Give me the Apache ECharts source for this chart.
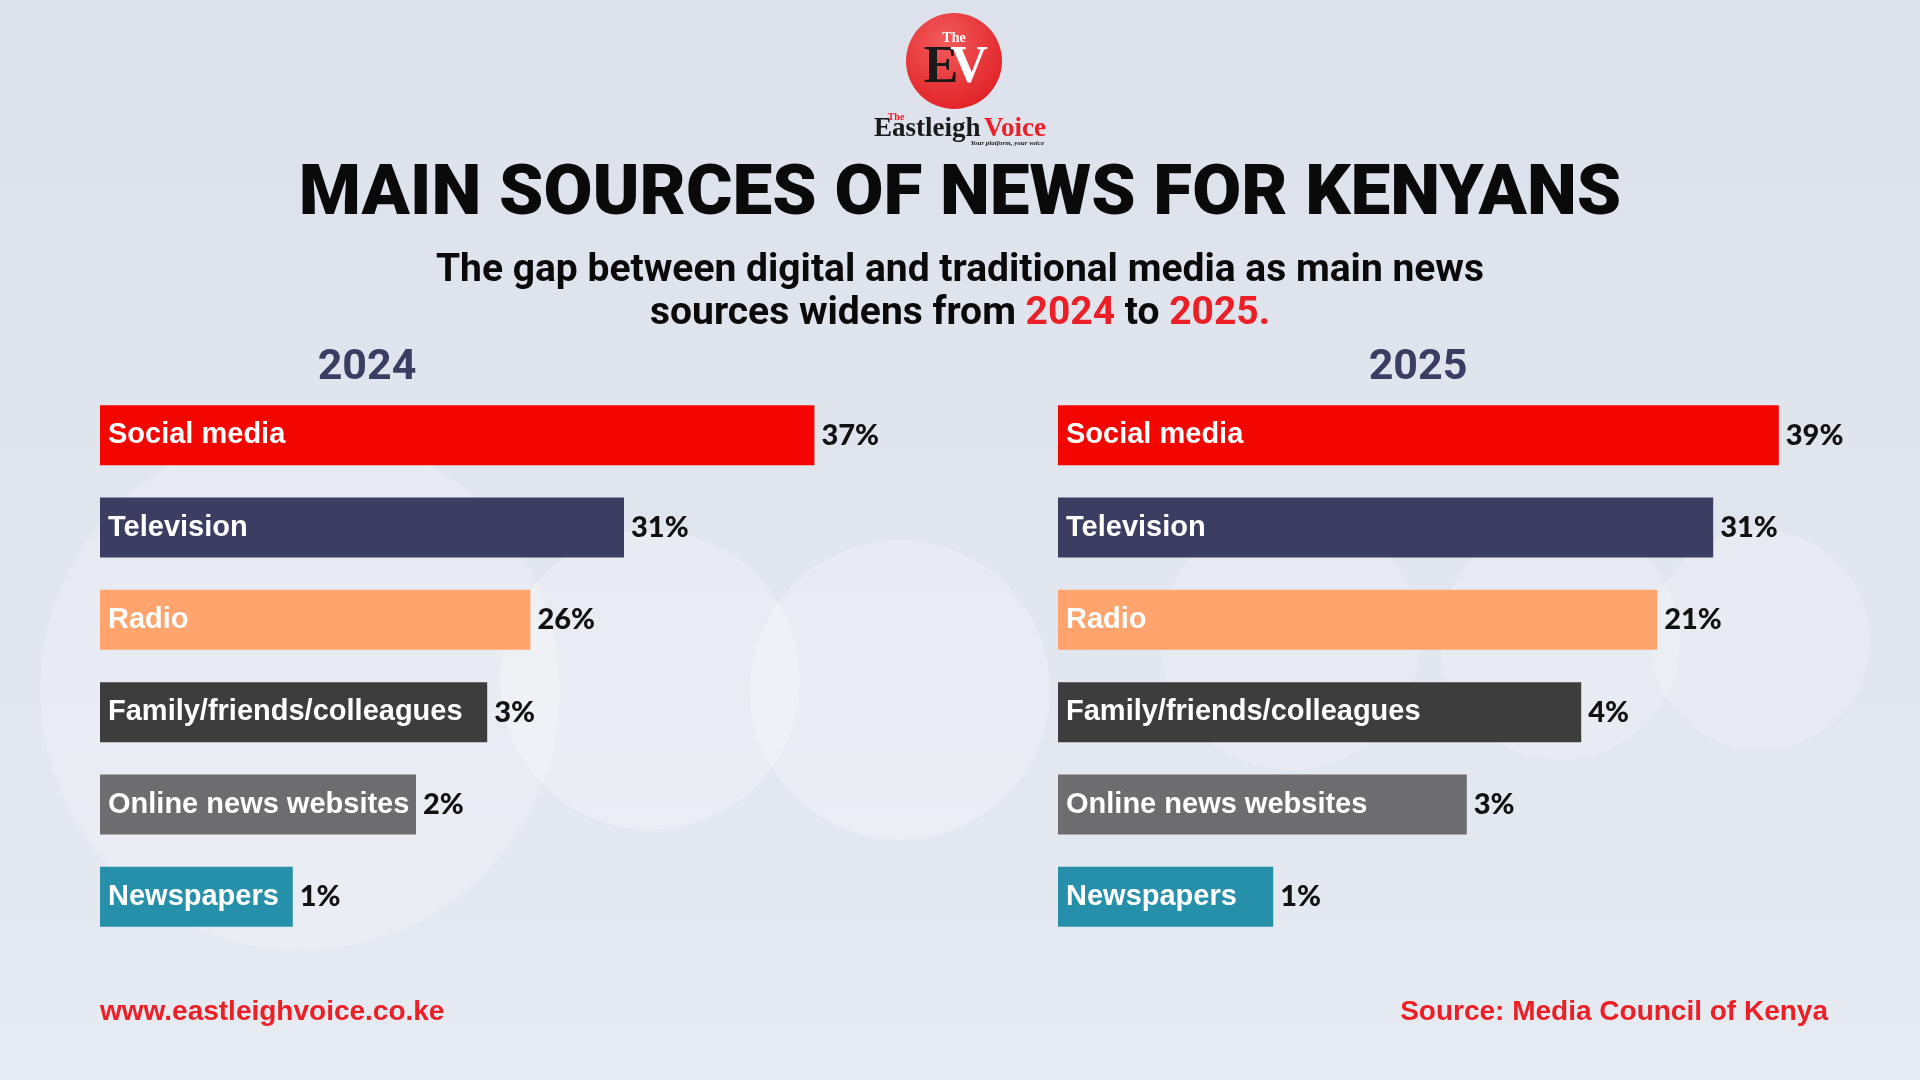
<!DOCTYPE html>
<html>
<head>
<meta charset="utf-8">
<title>Main sources of news for Kenyans</title>
<script src="https://cdn.jsdelivr.net/npm/echarts@6/dist/echarts.min.js"></script>
<style>
    html, body { margin: 0; padding: 0; background: #e2e6ee; }
    #main { width: 1920px; height: 1080px; }
</style>
</head>
<body>
<div id="main"></div>
<script>
var categories = ['Social media', 'Television', 'Radio', 'Family/friends/colleagues', 'Online news websites', 'Newspapers'];
var share2024 = [37, 31, 26, 3, 2, 1];
var share2025 = [39, 31, 21, 4, 3, 1];
// the graphic does not draw its bars to scale, so these are the lengths as drawn (0-100 of a panel)
var barLen2024 = [89.3, 65.5, 53.8, 48.4, 39.5, 24.1];
var barLen2025 = [90.1, 81.9, 74.9, 65.4, 51.1, 26.9];
var years = ['2024', '2025'];

var newsObj = {
    colors: ['#f40600', '#3c3d63', '#ffa46c', '#3d3d3d', '#6d6d6f', '#2690aa'],
    red: '#ec1f26',

    init: function(){
        this.chart = echarts.init(document.getElementById('main'));
        this.chart.setOption(this.getOption());
    },

    barSeries: function(idx, lens, shares){
        var that = this;
        return [
            {
                type: 'bar',
                xAxisIndex: idx,
                yAxisIndex: idx,
                barWidth: 60,
                barGap: '-100%',
                silent: true,
                data: lens.map(function(v, k){
                    return { value: v, itemStyle: { color: that.colors[k] } };
                }),
                label: {
                    show: true,
                    position: 'insideLeft',
                    distance: 8,
                    formatter: '{b}',
                    color: '#fff',
                    fontFamily: 'Liberation Sans',
                    fontWeight: 'bold',
                    fontSize: 29
                }
            },
            {
                type: 'bar',
                xAxisIndex: idx,
                yAxisIndex: idx,
                barWidth: 60,
                barGap: '-100%',
                silent: true,
                itemStyle: { color: 'transparent' },
                data: lens,
                label: {
                    show: true,
                    position: 'right',
                    distance: 7,
                    formatter: function(p){ return shares[p.dataIndex] + '%'; },
                    color: '#111',
                    fontFamily: 'Lato',
                    fontWeight: 900,
                    fontSize: 29
                }
            }
        ];
    },

    logo: function(){
        return {
            type: 'group',
            children: [
                { type: 'circle', shape: { cx: 954, cy: 61, r: 48 },
                  style: { fill: new echarts.graphic.RadialGradient(0.4, 0.3, 0.8, [
                      { offset: 0, color: '#f25a5c' }, { offset: 1, color: '#e01d22' }]) } },
                { type: 'text', x: 954, y: 38, style: { text: 'The', fill: '#fff', font: 'bold 14px "Liberation Serif"', align: 'center', verticalAlign: 'middle' } },
                { type: 'text', x: 941, y: 69, style: { text: 'E', fill: '#1a1a1a', font: 'bold 52px "Liberation Serif"', align: 'center', verticalAlign: 'middle' } },
                { type: 'text', x: 969, y: 69, style: { text: 'V', fill: '#fff', font: 'bold 52px "Liberation Serif"', align: 'center', verticalAlign: 'middle' } },
                { type: 'text', x: 896, y: 117, style: { text: 'The', fill: this.red, font: 'bold 10px "Liberation Serif"', align: 'center', verticalAlign: 'middle' } },
                { type: 'text', x: 960, y: 129, style: {
                    text: '{b|Eastleigh} {r|Voice}', align: 'center', verticalAlign: 'middle',
                    rich: {
                        b: { fill: '#1a1a1a', fontFamily: 'Liberation Serif', fontWeight: 'bold', fontSize: 27 },
                        r: { fill: this.red, fontFamily: 'Liberation Serif', fontWeight: 'bold', fontSize: 27 }
                    } } },
                { type: 'text', x: 1044, y: 143, style: { text: 'Your platform, your voice', fill: '#1a1a1a', font: 'italic bold 7px "Liberation Serif"', align: 'right', verticalAlign: 'middle' } }
            ]
        };
    },

    backdrop: function(){
        // faint round shapes of the blurred social icons behind the bars
        var rings = [[300, 690, 260, 0.22], [650, 680, 150, 0.25], [900, 690, 150, 0.25],
                     [1290, 640, 130, 0.2], [1560, 640, 120, 0.2], [1760, 640, 110, 0.2]];
        return rings.map(function(r){
            return { type: 'circle', z: -10, silent: true, shape: { cx: r[0], cy: r[1], r: r[2] },
                     style: { fill: 'rgba(255,255,255,' + r[3] + ')' } };
        });
    },

    getOption: function(){
        var grids = [
            { left: 100, top: 389, width: 800, height: 554 },
            { left: 1058, top: 389, width: 800, height: 554 }
        ];
        var xAxes = grids.map(function(g, i){
            return { type: 'value', gridIndex: i, min: 0, max: 100, show: false };
        });
        var yAxes = grids.map(function(g, i){
            return { type: 'category', gridIndex: i, data: categories, inverse: true, show: false };
        });

        var yearText = years.map(function(y, i){
            return { type: 'text', x: i === 0 ? 367 : 1418, y: 368,
                     style: { text: y, fill: '#3b3e63', font: 'bold 43px Roboto', align: 'center', verticalAlign: 'middle' } };
        });

        return {
            backgroundColor: new echarts.graphic.LinearGradient(0, 0, 0, 1, [
                { offset: 0, color: '#dce1eb' }, { offset: 1, color: '#e6eaf1' }]),
            animation: false,
            title: [
                {
                    text: 'MAIN SOURCES OF NEWS FOR KENYANS',
                    left: 'center',
                    top: 156,
                    textStyle: { fontFamily: 'Roboto', fontWeight: 900, fontSize: 71, color: '#0a0a0a' }
                },
                {
                    text: 'The gap between digital and traditional media as main news\nsources widens from {r|2024} to {r|2025.}',
                    left: 'center',
                    top: 245,
                    textStyle: {
                        fontFamily: 'Roboto', fontWeight: 'bold', fontSize: 39, color: '#0a0a0a',
                        lineHeight: 43, align: 'center',
                        rich: { r: { color: this.red, fontFamily: 'Roboto', fontWeight: 'bold', fontSize: 39, lineHeight: 43 } }
                    }
                },
                {
                    text: 'www.eastleighvoice.co.ke',
                    left: 95, top: 993,
                    textStyle: { fontFamily: 'Liberation Sans', fontWeight: 'bold', fontSize: 28, color: this.red }
                },
                {
                    text: 'Source: Media Council of Kenya',
                    right: 87, top: 993,
                    textStyle: { fontFamily: 'Liberation Sans', fontWeight: 'bold', fontSize: 28, color: this.red }
                }
            ],
            grid: grids,
            xAxis: xAxes,
            yAxis: yAxes,
            graphic: this.backdrop().concat([this.logo()]).concat(yearText),
            series: this.barSeries(0, barLen2024, share2024).concat(this.barSeries(1, barLen2025, share2025))
        };
    }
};

newsObj.init();
</script>
</body>
</html>
